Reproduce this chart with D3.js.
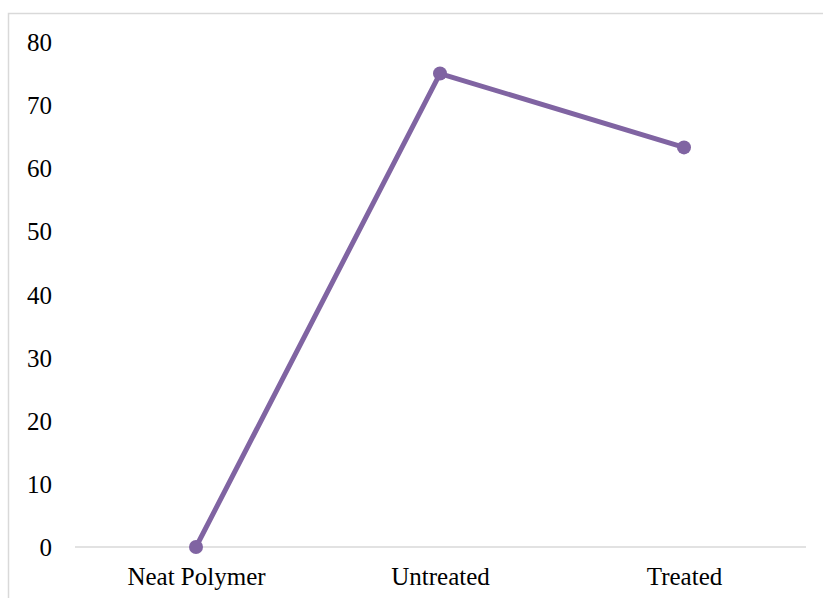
<!DOCTYPE html>
<html><head><meta charset="utf-8">
<script src="https://cdn.jsdelivr.net/npm/d3@7"></script>
<style>html,body{margin:0;padding:0;background:#fff;}svg{display:block;}</style>
</head><body>
<script>
const categories = ["Neat Polymer", "Untreated", "Treated"];
const values = [0, 75, 63.3];
const yTicks = [0, 10, 20, 30, 40, 50, 60, 70, 80];

const W = 823, H = 598;
const svg = d3.select("body").append("svg").attr("width", W).attr("height", H);

svg.append("rect").attr("x", 8.5).attr("y", 13.5).attr("width", W + 10).attr("height", H + 10)
  .attr("fill", "#fff").attr("stroke", "#d9d9d9").attr("stroke-width", 1.5);

const x = d3.scalePoint().domain(categories).range([196, 684]);
const y = d3.scaleLinear().domain([0, 80]).range([547, 42]);

const font = "'Liberation Serif', serif";

// x axis line
svg.append("line").attr("x1", 75).attr("x2", 806).attr("y1", y(0)).attr("y2", y(0))
  .attr("stroke", "#d9d9d9").attr("stroke-width", 1.5);

// y axis labels
const yAxis = d3.axisLeft(y).tickValues(yTicks).tickSize(0).tickPadding(0);
const gy = svg.append("g").attr("transform", "translate(52,0)").call(yAxis);
gy.select(".domain").remove();
gy.selectAll("text").attr("font-family", font).attr("font-size", 25).attr("fill", "#000").attr("dy", "0.34em");

// x axis labels
const xAxis = d3.axisBottom(x).tickSize(0).tickPadding(0);
const gx = svg.append("g").attr("transform", "translate(0,568)").call(xAxis);
gx.select(".domain").remove();
gx.selectAll("text").attr("font-family", font).attr("font-size", 25).attr("fill", "#000").attr("dy", "0.66em");

const color = "#8064A2";
const line = d3.line().x((d, i) => x(categories[i])).y(d => y(d));
svg.append("path").datum(values).attr("d", line).attr("fill", "none")
  .attr("stroke", color).attr("stroke-width", 5).attr("stroke-linejoin", "round");
svg.selectAll("circle.pt").data(values).enter().append("circle").attr("class", "pt")
  .attr("cx", (d, i) => x(categories[i])).attr("cy", d => y(d)).attr("r", 7).attr("fill", color);
</script>
</body></html>
